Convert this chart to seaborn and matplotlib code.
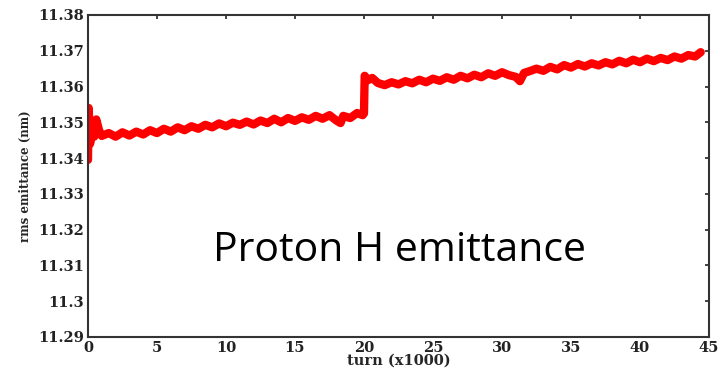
import numpy as np
import matplotlib
matplotlib.use('Agg')
import matplotlib.pyplot as plt
import seaborn as sns

# Data (turn in units of 1000, emittance in nm)
turn = [0.0, 0.05, 0.15, 0.3, 0.45, 0.6, 0.8, 1.0, 1.5, 2.0, 2.5, 3.0, 3.5, 4.0,
        4.5, 5.0, 5.5, 6.0, 6.5, 7.0, 7.5, 8.0, 8.5, 9.0, 9.5, 10.0, 10.5, 11.0,
        11.5, 12.0, 12.5, 13.0, 13.5, 14.0, 14.5, 15.0, 15.5, 16.0, 16.5, 17.0,
        17.5, 18.0, 18.3, 18.5, 19.0, 19.5, 19.9, 20.0, 20.05, 20.3, 20.6, 21.0,
        21.5, 22.0, 22.5, 23.0, 23.5, 24.0, 24.5, 25.0, 25.5, 26.0, 26.5, 27.0,
        27.5, 28.0, 28.5, 29.0, 29.5, 30.0, 30.5, 31.0, 31.3, 31.6, 32.0, 32.5,
        33.0, 33.5, 34.0, 34.5, 35.0, 35.5, 36.0, 36.5, 37.0, 37.5, 38.0, 38.5,
        39.0, 39.5, 40.0, 40.5, 41.0, 41.5, 42.0, 42.5, 43.0, 43.5, 44.0, 44.4]
emittance = [11.3395, 11.3540, 11.3440, 11.3475, 11.3460, 11.3508, 11.3478, 11.3462,
             11.3470, 11.3460, 11.3472, 11.3463, 11.3474, 11.3466, 11.3478, 11.3470,
             11.3482, 11.3474, 11.3486, 11.3478, 11.3489, 11.3482, 11.3493, 11.3486,
             11.3497, 11.3489, 11.3499, 11.3493, 11.3502, 11.3494, 11.3505, 11.3498,
             11.3510, 11.3500, 11.3512, 11.3504, 11.3514, 11.3507, 11.3518, 11.3510,
             11.3520, 11.3505, 11.3498, 11.3518, 11.3512, 11.3526, 11.3520, 11.3525,
             11.3630, 11.3618, 11.3624, 11.3610, 11.3604, 11.3612, 11.3606, 11.3615,
             11.3609, 11.3619, 11.3612, 11.3622, 11.3616, 11.3626, 11.3619, 11.3630,
             11.3623, 11.3633, 11.3626, 11.3637, 11.3630, 11.3640, 11.3632, 11.3627,
             11.3615, 11.3638, 11.3643, 11.3650, 11.3644, 11.3655, 11.3648, 11.3660,
             11.3653, 11.3663, 11.3656, 11.3665, 11.3659, 11.3668, 11.3662, 11.3672,
             11.3665, 11.3675, 11.3668, 11.3678, 11.3671, 11.3680, 11.3674, 11.3684,
             11.3678, 11.3688, 11.3684, 11.3696]

x_ticks = [0, 5, 10, 15, 20, 25, 30, 35, 40, 45]
y_ticks = [11.29, 11.30, 11.31, 11.32, 11.33, 11.34, 11.35, 11.36, 11.37, 11.38]
y_tick_labels = ['11.29', '11.3', '11.31', '11.32', '11.33', '11.34', '11.35',
                 '11.36', '11.37', '11.38']

sns.set_style('white')
plt.rcParams['font.family'] = ['DejaVu Serif']

fig = plt.figure(figsize=(7.2, 3.72), dpi=100)
ax = fig.add_axes([0.1222, 0.0941, 0.8625, 0.8656])

sns.lineplot(x=turn, y=emittance, color='#ff0000', linewidth=6, ax=ax,
             estimator=None, sort=False)

ax.set_xlim(0, 45)
ax.set_ylim(11.29, 11.38)
ax.set_xticks(x_ticks)
ax.set_yticks(y_ticks)
ax.set_xticklabels([str(t) for t in x_ticks], fontsize=10.5, fontweight='bold')
ax.set_yticklabels(y_tick_labels, fontsize=10.5, fontweight='bold')
ax.tick_params(direction='in', length=3, width=1.2, top=True, right=True,
               pad=3, colors='#222222')
for side in ax.spines.values():
    side.set_linewidth(1.5)
    side.set_color('#333333')

ax.set_xlabel('turn (x1000)', fontsize=10.5, fontweight='bold', labelpad=-1)
ax.set_ylabel('rms emittance (nm)', fontsize=8.5, fontweight='bold', labelpad=4)

ax.text(0.502, 0.237, 'Proton H emittance', transform=ax.transAxes,
        fontsize=29.5, family='Open Sans', ha='center', va='baseline', color='black')

fig.savefig('out.png', dpi=100)
